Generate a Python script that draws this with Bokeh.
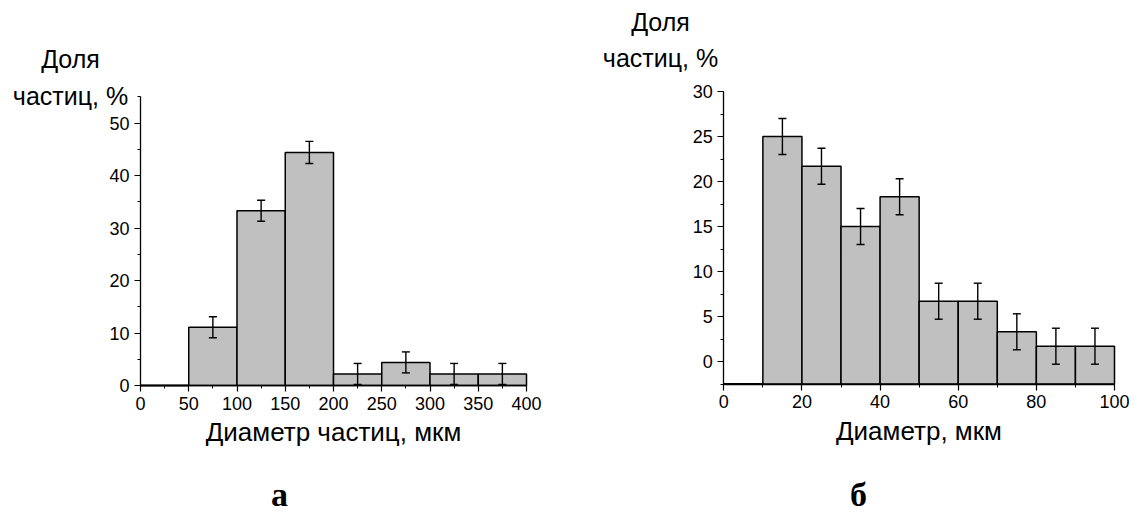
from bokeh.plotting import figure
from bokeh.models import (ColumnDataSource, Whisker, TeeHead, Label, Range1d,
                          SingleIntervalTicker)
from bokeh.layouts import row
from bokeh.embed import file_html
from bokeh.resources import INLINE

# ---------------- data ----------------
# panel "а": diameter of particles, µm (bin edges) and share of particles, %
edges_a = [0, 50, 100, 150, 200, 250, 300, 350, 400]
share_a = [0.0, 11.1, 33.3, 44.4, 2.2, 4.4, 2.2, 2.2]
err_a = [None, 2.0, 2.0, 2.1, 2.0, 2.0, 2.0, 2.0]

# panel "б": diameter, µm (bin edges) and share of particles, %
edges_b = [0, 10, 20, 30, 40, 50, 60, 70, 80, 90, 100]
share_b = [0.0, 25.0, 21.7, 15.0, 18.3, 6.7, 6.7, 3.3, 1.7, 1.7]
err_b = [None, 2.0, 2.0, 2.0, 2.0, 2.0, 2.0, 2.0, 2.0, 2.0]

ylab_line1 = "Доля"
ylab_line2 = "частиц, %"
xlab_a = "Диаметр частиц, мкм"
xlab_b = "Диаметр, мкм"
panel_a = "а"
panel_b = "б"

FONT = "Liberation Sans"
BAR_FILL = "#c0c0c0"
H = 512


def xrange_from(v0, p0, v1, p1, size):
    u = (v1 - v0) / (p1 - p0)
    start = v0 - p0 * u
    return Range1d(start, start + size * u)


def yrange_from(v0, p0, v1, p1, size):
    # p0, p1 are pixel rows measured from the top
    u = (v1 - v0) / (p0 - p1)
    start = v0 - (size - p0) * u
    return Range1d(start, start + size * u)


def make_panel(edges, share, err, y_base, y_top, xr, yr, xtick, ytick,
               xlab, width):
    p = figure(width=width, height=H, output_backend="svg",
               toolbar_location=None, x_range=xr, y_range=yr,
               min_border=0, min_border_left=0, min_border_right=0,
               min_border_top=0, min_border_bottom=0)
    p.background_fill_color = "white"
    p.border_fill_color = "white"
    p.outline_line_color = None
    p.grid.visible = False

    lefts, rights, tops, centers, uppers, lowers = [], [], [], [], [], []
    zl, zr = [], []
    for i, v in enumerate(share):
        if v > 0:
            lefts.append(edges[i])
            rights.append(edges[i + 1])
            tops.append(v)
        else:
            zl.append(edges[i])
            zr.append(edges[i + 1])
        if err[i] is not None:
            centers.append((edges[i] + edges[i + 1]) / 2)
            uppers.append(v + err[i])
            lowers.append(v - err[i])

    p.quad(left=lefts, right=rights, top=tops, bottom=y_base,
           fill_color=BAR_FILL, line_color="black", line_width=1.5)
    for a, b in zip(zl, zr):
        p.line(x=[a, b], y=[y_base, y_base], line_color="black",
               line_width=2.0)

    src = ColumnDataSource(dict(base=centers, upper=uppers, lower=lowers))
    p.add_layout(Whisker(source=src, base="base", upper="upper",
                         lower="lower", level="overlay",
                         line_color="black", line_width=1.4,
                         upper_head=TeeHead(size=8, line_color="black",
                                            line_width=1.4),
                         lower_head=TeeHead(size=8, line_color="black",
                                            line_width=1.4)))

    xa = p.xaxis[0]
    ya = p.yaxis[0]
    xa.fixed_location = y_base
    xa.bounds = (edges[0], edges[-1])
    ya.fixed_location = edges[0]
    ya.bounds = (y_base, y_top)
    xa.ticker = xtick
    ya.ticker = ytick
    xa.axis_label = xlab
    for ax in (xa, ya):
        ax.axis_line_color = "black"
        ax.axis_line_width = 1.3
        ax.major_tick_line_color = "black"
        ax.minor_tick_line_color = "black"
        ax.major_tick_line_width = 1.2
        ax.minor_tick_line_width = 1.0
        ax.major_tick_out = 6
        ax.major_tick_in = 0
        ax.minor_tick_out = 3
        ax.minor_tick_in = 0
        ax.major_label_text_font = FONT
        ax.major_label_text_font_size = "18px"
        ax.major_label_text_color = "black"
        ax.axis_label_text_font = FONT
        ax.axis_label_text_font_size = "26px"
        ax.axis_label_text_font_style = "normal"
        ax.axis_label_text_color = "black"
    xa.major_label_standoff = 5
    ya.major_label_standoff = 5
    xa.axis_label_standoff = 4
    return p


def add_texts(p, cx, base1, base2, pan_cx, pan_base, pan_text):
    for txt, b in ((ylab_line1, base1), (ylab_line2, base2)):
        p.add_layout(Label(x=cx, y=H - b, x_units="screen", y_units="screen",
                           text=txt, text_align="center",
                           text_baseline="alphabetic", text_font=FONT,
                           text_font_size="25px", text_color="black"))
    p.add_layout(Label(x=pan_cx, y=H - pan_base, x_units="screen",
                       y_units="screen", text=pan_text, text_align="center",
                       text_baseline="alphabetic",
                       text_font="Liberation Serif", text_font_style="bold",
                       text_font_size="34px", text_color="black"))


W1, W2 = 590, 545

p1 = make_panel(edges_a, share_a, err_a, 0, 55,
                xrange_from(0, 140, 400, 526, W1),
                yrange_from(0, 385, 50, 122.5, H),
                SingleIntervalTicker(interval=50, num_minor_ticks=2),
                SingleIntervalTicker(interval=10, num_minor_ticks=2),
                xlab_a, W1)
add_texts(p1, 70, 58, 95, 279, 494, panel_a)

p2 = make_panel(edges_b, share_b, err_b, -2.5, 30,
                xrange_from(0, 133.3, 100, 524, W2),
                yrange_from(0, 361, 30, 91, H),
                SingleIntervalTicker(interval=20, num_minor_ticks=2),
                SingleIntervalTicker(interval=5, num_minor_ticks=2),
                xlab_b, W2)
add_texts(p2, 70, 21, 57, 268, 494, panel_b)

layout = row(p1, p2)
open("out.html", "w").write(file_html(layout, INLINE))
